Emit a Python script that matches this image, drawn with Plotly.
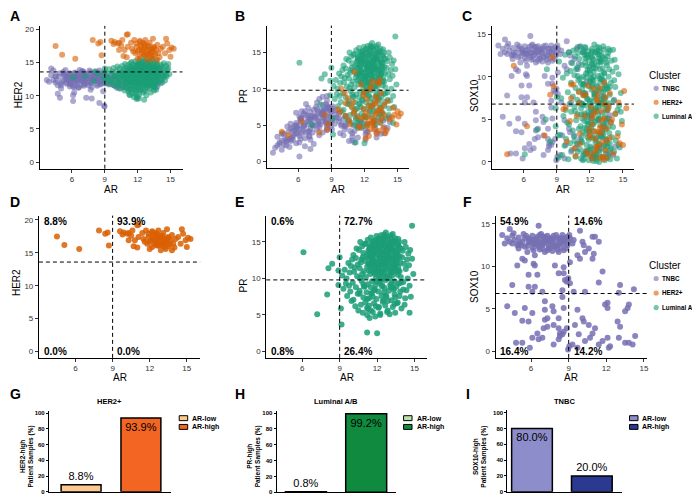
import plotly.graph_objects as go

W, H = 700, 496
FONT = "Liberation Sans, Arial, sans-serif"

# ---------------- data ----------------
clusters = ["TNBC", "HER2+", "Luminal A/B"]
cluster_colors = {"TNBC": "#7570B3", "HER2+": "#D95F02", "Luminal A/B": "#1B9E77"}

tnbc_ar = [3.7, 4.3, 4.1, 3.9, 4.5, 4.7, 4.9, 5.1, 5.4, 5.5,
           5.8, 5.9, 6.1, 6.2, 6.3, 6.5, 6.6, 6.6, 6.7, 6.9,
           7.0, 7.1, 7.3, 7.4, 7.5, 7.7, 7.8, 7.9, 8.1, 8.2,
           8.3, 8.5, 8.6, 8.7, 8.9, 8.9, 8.95, 9.05, 5.5, 5.7,
           5.3, 6.2, 6.3, 6.9, 7.1, 7.5, 7.9, 8.2, 8.6, 5.2,
           5.0, 6.1, 6.5, 7.3, 7.7, 8.3, 6.7, 5.8, 4.5, 7.4,
           9.3, 9.4, 9.9, 10.1, 10.2, 10.3, 10.9, 11.0, 11.1, 11.4,
           9.7, 9.9, 10.6, 9.1, 10.9, 4.9, 5.5, 6.2, 6.3, 6.5,
           5.8, 7.9, 8.2, 8.6, 8.7, 8.85, 8.97, 8.6, 4.5, 5.8,
           6.3, 6.9, 6.1, 8.5, 11.7, 11.4, 13.1, 13.0, 14.2, 9.4,
           10.3, 9.1, 9.1, 7.1, 8.5, 5.5, 7.1, 7.7, 7.8, 8.6,
           4.7, 6.1, 7.1, 7.3, 5.3, 5.8, 8.2, 9.7, 10.1, 10.2,
           11.9, 12.1, 12.1, 13.7, 13.8, 13.5, 7.0, 7.3, 7.8, 8.2,
           8.3, 8.5, 8.3, 8.6, 6.9, 6.6, 6.1, 5.3, 5.9, 7.8,
           8.2, 9.05, 9.3, 8.85, 9.8, 10.3, 10.7, 10.9, 11.1, 11.4,
           11.7, 12.1, 12.3, 12.9, 13.1, 13.0, 13.5, 13.8, 14.1, 14.3,
           9.5, 10.6, 9.7, 8.95, 12.2, 6.5, 4.8, 4.1, 4.6, 5.0,
           5.3, 5.6, 5.9, 6.2, 6.4, 6.6, 6.8, 7.0, 7.2, 7.4,
           7.6, 7.8, 8.0, 8.2, 8.4, 8.6, 8.8, 6.1, 6.7, 7.0,
           7.3, 7.7, 8.1, 5.7, 5.0, 4.3, 6.9, 8.5]
tnbc_sox10 = [13.7, 14.4, 13.3, 12.7, 13.6, 13.1, 12.5, 12.8, 13.8, 13.3,
              13.3, 12.9, 13.6, 13.1, 12.7, 13.5, 14.8, 12.9, 13.7, 13.2,
              12.7, 13.5, 12.9, 12.5, 13.3, 12.8, 13.6, 13.1, 12.5, 13.3,
              12.9, 13.7, 12.7, 13.1, 13.5, 12.5, 12.9, 13.7, 12.3, 11.7,
              10.9, 11.9, 11.3, 12.1, 11.7, 12.1, 12.3, 11.7, 11.9, 12.5,
              12.1, 12.8, 12.5, 13.6, 13.3, 13.3, 12.8, 12.8, 12.7, 13.1,
              12.7, 13.1, 14.2, 12.9, 12.5, 11.7, 13.5, 11.5, 13.5, 12.9,
              11.3, 10.9, 12.1, 13.3, 10.9, 10.1, 10.7, 10.3, 10.1, 9.0,
              9.0, 10.1, 9.2, 9.2, 8.4, 8.2, 8.6, 9.9, 7.8, 7.6,
              7.6, 7.0, 7.0, 7.2, 9.4, 8.1, 7.8, 6.9, 7.3, 7.0,
              7.0, 10.5, 8.0, 5.9, 6.4, 5.1, 4.9, 5.3, 4.7, 5.1,
              4.5, 4.5, 3.7, 3.9, 3.6, 3.5, 3.9, 4.9, 3.9, 3.5,
              5.5, 5.7, 5.1, 5.1, 5.5, 4.7, 2.7, 2.9, 3.1, 2.7,
              2.1, 2.0, 1.8, 2.3, 1.6, 1.4, 1.6, 1.0, 0.4, 0.8,
              1.4, 0.6, 0.8, 2.7, 2.0, 1.2, 1.6, 2.1, 2.7, 0.8,
              1.2, 1.6, 0.6, 3.5, 2.9, 1.6, 1.0, 1.0, 0.8, 1.8,
              3.1, 3.1, 0.4, 0.2, 0.4, 2.1, 1.0, 5.3, 13.9, 13.4,
              12.9, 13.6, 13.1, 12.6, 13.2, 12.3, 13.8, 12.9, 13.1, 12.2,
              12.9, 12.4, 13.7, 12.6, 12.2, 13.3, 12.1, 12.2, 12.0, 13.5,
              11.9, 11.8, 12.0, 12.4, 12.6, 12.9, 12.5, 12.9]
tnbc_her2 = [12.4, 13.8, 14.1, 12.1, 12.9, 11.6, 13.4, 12.2, 13.9, 11.8,
             12.6, 13.2, 11.4, 12.8, 13.5, 12.0, 13.0, 11.2, 12.5, 13.7,
             12.3, 11.7, 13.3, 12.7, 12.1, 13.6, 11.9, 12.9, 13.1, 12.4,
             11.5, 13.8, 12.6, 12.2, 13.4, 11.9, 12.8, 13.2, 12.0, 13.1,
             12.4, 11.3, 12.9, 12.2, 13.0, 11.6, 12.5, 13.5, 12.0, 13.6,
             11.1, 12.7, 13.3, 11.8, 12.9, 12.3, 13.9, 12.1, 13.0, 12.6,
             12.4, 11.7, 13.0, 11.2, 12.9, 11.9, 11.2, 12.4, 13.1, 12.2,
             12.6, 11.5, 13.3, 12.8, 11.8, 9.7, 12.6, 10.5, 12.2, 13.1,
             11.4, 12.8, 13.6, 11.7, 12.5, 13.2, 8.4, 12.3, 12.0, 13.4,
             11.6, 12.7, 10.1, 13.0, 12.1, 11.0, 12.6, 13.3, 12.4, 11.8,
             11.1, 12.9, 12.2, 12.4, 8.9, 12.8, 13.5, 12.0, 9.6, 13.1,
             10.3, 12.5, 11.5, 12.9, 13.2, 11.8, 12.7, 13.0, 12.3, 11.6,
             12.9, 11.9, 13.3, 12.2, 11.4, 12.8, 13.7, 9.7, 12.2, 13.4,
             11.7, 12.6, 13.0, 12.1, 12.9, 11.3, 12.4, 13.3, 12.0, 13.1,
             12.5, 11.9, 12.8, 10.7, 11.6, 12.3, 12.9, 11.4, 12.6, 12.0,
             13.2, 11.8, 12.7, 12.2, 13.0, 11.5, 12.4, 12.9, 11.9, 13.1,
             12.5, 11.7, 12.1, 8.5, 12.8, 12.3, 12.9, 13.1, 12.3, 11.9,
             13.0, 12.5, 11.7, 13.4, 12.2, 12.9, 11.5, 13.2, 12.0, 12.6,
             13.8, 11.3, 12.8, 12.3, 13.5, 11.8, 12.5, 9.2, 12.7, 12.1,
             13.3, 10.9, 12.6, 12.9, 11.6, 12.4, 13.6, 12.2]
tnbc_pr = [1.2, 2.6, 3.4, 1.9, 2.9, 3.7, 2.2, 4.1, 3.3, 4.6,
           5.0, 3.8, 4.4, 5.6, 6.1, 4.9, 5.3, 3.2, 6.4, 5.1,
           4.2, 6.8, 5.7, 2.4, 6.0, 7.2, 5.4, 4.7, 6.6, 7.8,
           5.9, 6.3, 8.4, 5.2, 7.0, 6.7, 4.8, 6.9, 3.0, 4.3,
           2.8, 5.8, 3.9, 7.4, 4.5, 6.2, 3.6, 5.5, 7.7, 2.0,
           4.8, 3.5, 6.6, 5.0, 8.1, 6.1, 4.0, 5.3, 1.6, 7.1,
           6.0, 7.0, 5.1, 5.8, 4.4, 6.3, 3.9, 5.0, 4.2, 3.3,
           6.6, 4.9, 5.6, 7.3, 2.9, 2.7, 4.2, 3.1, 5.9, 4.6,
           6.7, 8.6, 6.4, 5.0, 7.5, 6.2, 5.4, 9.0, 3.8, 2.5,
           6.9, 4.1, 5.0, 7.9, 4.6, 5.3, 4.0, 5.7, 6.1, 6.5,
           4.8, 7.6, 5.7, 3.0, 7.3, 3.4, 5.8, 4.4, 6.8, 5.5,
           2.3, 6.2, 1.7, 5.0, 4.5, 3.9, 6.5, 5.9, 3.6, 4.9,
           5.2, 3.0, 4.3, 5.6, 4.7, 3.8, 3.5, 6.3, 5.1, 4.0,
           6.9, 5.3, 7.1, 4.6, 6.0, 2.1, 0.7, 3.1, 4.7, 5.6,
           6.7, 4.4, 5.2, 7.4, 3.9, 5.1, 4.2, 3.4, 2.6, 4.8,
           5.5, 3.7, 4.1, 5.0, 3.3, 4.5, 5.8, 3.9, 4.6, 5.4,
           6.0, 2.8, 5.5, 6.1, 4.0, 4.9, 3.0, 2.2, 3.9, 2.9,
           5.2, 3.7, 4.5, 5.9, 4.2, 6.9, 5.5, 3.4, 6.2, 4.9,
           7.5, 6.0, 5.1, 8.9, 6.8, 4.3, 7.2, 2.6, 7.9, 5.7,
           4.0, 6.5, 7.0, 4.9, 3.2, 2.4, 6.3, 5.6]

her2p_ar = [4.5, 5.1, 6.3, 7.9, 8.4, 8.6, 8.7, 9.6, 9.9, 10.3,
            10.3, 10.2, 10.6, 10.8, 11.0, 11.1, 10.7, 11.0, 11.1, 11.4,
            11.5, 11.7, 11.8, 11.9, 12.1, 12.2, 12.2, 12.3, 12.5, 12.5,
            12.6, 12.7, 12.7, 12.9, 12.9, 13.0, 13.1, 13.1, 13.3, 13.3,
            13.4, 13.4, 13.5, 13.5, 13.7, 13.8, 13.8, 13.9, 14.1, 14.3,
            14.5, 14.6, 14.7, 14.9, 15.0, 15.1, 15.3, 11.9, 12.2, 12.4,
            12.6, 12.8, 13.0, 13.2, 13.3, 13.5, 12.7, 12.0, 12.3, 12.4,
            12.9, 13.6, 13.2, 11.6, 12.0, 14.0, 13.0, 12.6, 10.5, 9.8]
her2p_her2 = [17.5, 16.2, 15.6, 18.4, 17.9, 18.1, 16.1, 18.3, 18.1, 18.0,
              16.9, 17.9, 18.4, 16.9, 19.2, 19.3, 16.0, 15.8, 17.4, 18.0,
              17.1, 18.4, 16.4, 17.4, 16.9, 18.3, 15.9, 17.3, 18.0, 16.6,
              17.1, 18.4, 16.1, 17.4, 15.4, 16.9, 18.0, 16.4, 17.2, 15.6,
              18.6, 16.6, 17.4, 16.0, 16.9, 15.4, 17.7, 16.4, 17.1, 17.4,
              16.4, 18.6, 17.9, 16.9, 15.9, 17.3, 17.1, 17.9, 18.1, 16.3,
              16.1, 16.9, 17.6, 16.6, 17.0, 17.2, 17.6, 16.7, 17.6, 16.9,
              16.3, 16.3, 15.9, 16.7, 15.6, 15.8, 16.1, 17.8, 17.6, 17.8]
her2p_pr = [4.1, 3.6, 5.5, 4.0, 6.4, 4.4, 5.2, 7.2, 10.0, 8.0,
            6.3, 9.4, 5.7, 7.6, 6.6, 12.3, 5.1, 8.2, 7.0, 6.1,
            4.8, 10.6, 5.9, 7.3, 3.2, 8.6, 6.8, 5.3, 9.9, 4.4,
            7.5, 6.0, 11.0, 5.6, 4.4, 8.9, 6.5, 3.8, 10.7, 7.1,
            11.2, 5.4, 9.4, 6.9, 4.6, 7.8, 6.4, 3.9, 8.3, 5.8,
            6.0, 7.4, 6.4, 5.1, 6.9, 6.2, 6.6, 9.1, 4.9, 7.7,
            10.3, 5.0, 6.7, 8.5, 4.2, 7.3, 5.5, 9.6, 6.1, 3.5,
            8.0, 5.9, 10.9, 4.7, 6.3, 4.3, 7.9, 5.2, 8.7, 6.8]
her2p_sox10 = [0.9, 11.3, 4.2, 3.1, 7.9, 12.3, 8.9, 6.2, 2.4, 7.5,
               9.1, 4.8, 1.6, 5.4, 8.2, 3.3, 0.7, 6.9, 2.1, 7.8,
               5.4, 1.2, 9.0, 3.8, 6.5, 0.4, 4.4, 8.6, 2.7, 5.9,
               1.8, 7.2, 3.5, 8.7, 0.5, 6.0, 4.1, 2.3, 9.3, 5.1,
               1.4, 7.6, 0.5, 3.9, 6.6, 2.8, 8.1, 4.6, 1.0, 5.7,
               3.0, 7.0, 2.2, 4.4, 2.0, 8.35, 6.3, 0.8, 5.2, 3.6,
               7.4, 1.9, 4.9, 0.3, 6.8, 2.5, 8.0, 3.2, 5.6, 1.1,
               4.0, 6.1, 0.6, 7.9, 2.9, 5.0, 3.4, 1.5, 9.1, 6.4]

lum_ar = [9.2, 9.3, 9.4, 9.5, 9.55, 9.6, 9.7, 9.75, 9.8, 9.85, 9.9, 9.95,
          10.0, 10.05, 10.1, 10.1, 10.15, 10.2, 10.25, 10.3, 10.3, 10.35, 10.4, 10.45, 10.45, 10.5,
          10.55, 10.6, 10.6, 10.65, 10.7, 10.7, 10.75, 10.8, 10.8, 10.85, 10.85, 10.9, 10.9, 10.95, 10.95, 11.0, 10.65, 10.75,
          11.05, 11.05, 11.1, 11.1, 11.15, 11.15, 11.2, 11.2, 11.25, 11.25, 11.3, 11.3, 11.35, 11.35, 11.4, 11.4, 11.45, 11.45, 11.5, 11.5, 11.2, 11.35,
          11.55, 11.55, 11.6, 11.6, 11.6, 11.65, 11.65, 11.7, 11.7, 11.75, 11.75, 11.8, 11.8, 11.8, 11.85, 11.85, 11.9, 11.9, 11.95, 11.95, 12.0, 12.0, 11.7, 11.9, 11.6,
          12.05, 12.05, 12.1, 12.1, 12.1, 12.15, 12.15, 12.2, 12.2, 12.2, 12.25, 12.25, 12.3, 12.3, 12.3, 12.35, 12.35, 12.4, 12.4, 12.4, 12.45, 12.45, 12.5, 12.5, 12.2, 12.3, 12.15, 12.4,
          12.55, 12.55, 12.6, 12.6, 12.6, 12.65, 12.65, 12.7, 12.7, 12.7, 12.75, 12.75, 12.8, 12.8, 12.8, 12.85, 12.85, 12.9, 12.9, 12.9, 12.95, 12.95, 13.0, 13.0, 12.6, 12.75, 12.85, 12.7,
          13.05, 13.05, 13.1, 13.1, 13.15, 13.15, 13.2, 13.2, 13.25, 13.25, 13.3, 13.3, 13.35, 13.35, 13.4, 13.4, 13.45, 13.45, 13.5, 13.5, 13.1, 13.3, 13.2, 13.4, 13.25,
          13.55, 13.55, 13.6, 13.6, 13.65, 13.65, 13.7, 13.7, 13.75, 13.8, 13.8, 13.85, 13.9, 13.9, 13.95, 14.0, 13.7, 13.85,
          14.05, 14.1, 14.15, 14.2, 14.25, 14.3, 14.3, 14.35, 14.4, 14.45, 14.5, 14.2,
          14.55, 14.6, 14.65, 14.7, 14.8, 14.9,
          6.1, 7.2, 8.0, 8.1, 8.4, 8.9, 9.0, 9.15, 9.1, 8.9, 11.2, 12.0, 14.8, 14.6,
          11.3, 11.4, 11.5, 11.6, 11.7, 11.8, 11.9, 12.0, 12.1, 12.2,
          12.3, 12.4, 12.5, 12.6, 12.7, 12.8, 12.9, 13.0, 13.1, 13.2,
          13.3, 13.4, 13.5, 13.6, 13.7, 13.8, 11.45, 11.65, 11.85, 12.05,
          12.25, 12.45, 12.65, 12.85, 13.05, 13.25, 13.45, 13.65, 11.55, 11.75,
          11.95, 12.15, 12.35, 12.55, 12.75, 12.95, 13.15, 13.35, 13.55, 13.75,
          11.35, 11.6, 11.85, 12.1, 12.35, 12.6, 12.85, 13.1, 13.35, 13.6,
          11.4, 11.7, 12.0, 12.3, 12.6, 12.9, 13.2, 13.5, 13.8, 12.4,
          11.5, 11.8, 12.1, 12.4, 12.7, 13.0, 13.3, 13.6, 12.2, 12.8,
          11.2, 11.5, 11.8, 12.1, 12.4, 12.7, 13.0, 13.3, 13.6, 13.9,
          11.0, 11.35, 11.65, 11.95, 12.25, 12.55, 12.85, 13.15, 13.45, 14.1,
          10.6, 10.9, 11.25, 11.55, 11.9, 12.2, 12.5, 12.8, 13.1, 13.4]
lum_pr = [10.4, 8.6, 11.2, 9.3, 10.0, 7.6, 12.1, 9.0, 10.8, 8.2, 11.7, 6.9,
          12.6, 9.4, 13.2, 7.1, 10.9, 11.5, 6.2, 12.8, 8.8, 14.1, 10.3, 7.9, 11.9, 5.6,
          13.9, 8.3, 11.4, 15.0, 6.4, 12.2, 9.7, 14.4, 10.6, 5.3, 12.9, 7.4, 13.5, 11.0, 8.9, 14.7, 10.1, 12.6,
          12.4, 6.7, 14.8, 10.2, 8.1, 13.1, 11.6, 5.0, 15.3, 9.2, 12.0, 13.8, 7.3, 11.1, 14.2, 4.6, 10.6, 12.9, 8.8, 15.6, 6.0, 13.4,
          13.2, 7.9, 11.8, 14.6, 9.6, 12.5, 5.4, 15.1, 10.9, 6.6, 13.9, 12.2, 8.5, 14.4, 11.3, 4.8, 13.6, 10.0, 15.8, 7.2, 12.8, 11.5, 14.0, 9.1, 12.1,
          11.4, 14.9, 8.2, 13.3, 10.5, 15.5, 6.1, 12.7, 9.4, 14.2, 11.9, 5.2, 13.7, 10.9, 15.9, 7.6, 12.4, 14.6, 8.9, 11.2, 13.9, 6.8, 15.2, 12.0, 10.2, 13.0, 11.7, 9.9,
          13.6, 10.7, 15.7, 8.7, 12.3, 14.5, 6.3, 11.6, 16.3, 9.8, 13.0, 7.5, 14.8, 12.6, 10.3, 15.4, 5.6, 13.3, 11.1, 14.1, 8.3, 12.9, 15.0, 10.0, 11.9, 13.8, 12.2, 14.3,
          14.2, 9.1, 12.8, 15.6, 7.0, 11.4, 13.9, 10.4, 16.1, 6.1, 12.5, 14.7, 8.5, 11.8, 15.2, 9.6, 13.4, 5.3, 12.1, 14.0, 10.8, 13.1, 11.0, 7.8, 15.0,
          12.7, 8.9, 14.6, 10.9, 6.7, 13.5, 11.6, 15.4, 9.3, 13.0, 7.6, 12.2, 14.1, 10.2, 5.9, 12.9, 11.1, 8.2,
          13.8, 9.5, 12.0, 15.0, 7.3, 11.3, 14.3, 8.4, 12.6, 10.0, 13.4, 6.4,
          11.8, 9.0, 13.9, 7.5, 12.7, 10.6,
          13.6, 5.1, 7.8, 11.4, 12.0, 11.1, 12.9, 3.7, 5.9, 9.1, 2.6, 2.5, 17.2, 5.3,
          12.8, 14.1, 11.2, 15.0, 13.3, 10.6, 14.7, 12.1, 15.4, 11.8,
          13.6, 10.9, 14.9, 12.4, 11.3, 15.7, 13.0, 10.4, 14.4, 12.7,
          15.1, 11.6, 13.8, 12.3, 14.6, 11.0, 13.9, 12.6, 10.8, 14.3,
          12.9, 15.3, 11.5, 13.2, 14.8, 12.0, 15.5, 10.5, 12.3, 13.7,
          14.0, 11.1, 12.8, 16.0, 13.5, 11.7, 14.2, 12.5, 13.1, 15.0,
          11.9, 13.0, 15.2, 12.2, 14.5, 10.3, 12.9, 15.9, 11.4, 13.6,
          14.4, 11.5, 13.4, 10.7, 15.6, 12.1, 13.7, 11.9, 14.2, 13.0,
          12.0, 14.8, 11.7, 13.3, 12.6, 14.0, 10.9, 12.8, 15.0, 13.9,
          7.2, 5.6, 8.4, 6.0, 9.1, 7.7, 5.1, 8.7, 6.6, 9.4,
          8.9, 6.3, 7.5, 9.6, 5.0, 8.1, 6.9, 9.3, 7.4, 8.5,
          7.9, 9.2, 5.8, 8.0, 6.2, 9.7, 7.0, 5.4, 8.8, 6.5]
lum_her2 = [13.4, 12.7, 14.0, 12.1, 13.1, 11.8, 13.6, 12.4, 14.2, 11.6, 13.0, 12.9,
            12.2, 13.7, 11.4, 13.0, 14.4, 12.6, 11.9, 13.3, 12.0, 14.1, 12.8, 13.5, 11.1, 12.5,
            13.6, 12.1, 14.5, 11.3, 13.0, 12.7, 14.0, 10.8, 13.4, 12.3, 14.8, 11.8, 13.2, 12.5, 14.2, 13.8, 11.5, 13.1,
            12.9, 11.2, 13.8, 14.6, 10.6, 12.4, 13.3, 11.9, 14.1, 12.7, 10.1, 13.6, 12.0, 14.9, 11.6, 13.1, 12.5, 15.1, 11.0, 13.9, 12.2, 14.4,
            13.4, 10.3, 12.8, 14.7, 11.5, 13.9, 9.8, 12.2, 14.3, 11.1, 13.0, 15.2, 10.6, 12.6, 13.7, 11.8, 14.0, 9.5, 12.9, 11.4, 13.5, 14.8, 12.4, 10.9, 13.2,
            12.7, 14.2, 9.6, 13.5, 11.9, 14.9, 10.2, 13.1, 12.4, 15.5, 11.3, 13.8, 12.0, 14.5, 10.9, 13.3, 12.6, 15.0, 11.6, 13.9, 12.2, 14.4, 10.5, 13.6, 12.9, 14.1, 11.0, 13.0,
            13.2, 11.4, 14.6, 12.8, 15.3, 10.7, 13.6, 12.1, 14.3, 11.8, 13.0, 15.7, 12.5, 10.1, 13.9, 14.8, 11.2, 13.4, 12.3, 15.1, 11.6, 14.0, 12.7, 13.5, 9.4, 14.2, 12.9, 13.7,
            12.9, 14.7, 11.1, 13.5, 12.4, 15.2, 10.5, 13.8, 12.2, 14.4, 11.7, 13.1, 15.6, 12.6, 14.0, 11.3, 13.3, 12.0, 14.8, 10.8, 13.7, 12.5, 14.2, 13.0, 11.9,
            13.4, 11.5, 14.3, 12.7, 15.0, 12.0, 13.8, 10.9, 14.6, 12.4, 13.1, 11.8, 14.1, 12.9, 13.6, 12.2, 15.3, 13.3,
            13.9, 12.5, 14.7, 13.2, 12.0, 14.2, 13.5, 12.8, 14.9, 13.0, 12.3, 14.4,
            13.6, 14.5, 12.9, 13.9, 14.1, 13.3,
            12.8, 13.0, 12.2, 13.7, 13.3, 12.6, 14.1, 11.9, 12.5, 13.5, 10.9, 9.9, 14.8, 13.1,
            13.2, 12.6, 14.1, 11.9, 13.7, 12.3, 14.5, 13.0, 12.1, 14.8,
            12.7, 13.9, 11.6, 14.3, 13.1, 12.2, 14.9, 13.5, 12.4, 14.0,
            12.9, 14.6, 13.3, 12.0, 14.2, 13.6, 12.8, 14.0, 11.8, 13.4,
            13.8, 12.5, 15.1, 13.0, 11.7, 14.4, 12.6, 13.9, 12.2, 13.5,
            14.7, 12.0, 13.6, 14.2, 12.3, 13.8, 15.0, 12.8, 13.4, 14.1,
            12.4, 13.3, 11.4, 14.6, 12.9, 13.7, 12.1, 14.3, 13.0, 11.9,
            13.9, 12.7, 13.1, 15.2, 12.5, 14.0, 13.3, 12.2, 14.7, 13.6,
            12.0, 14.2, 12.8, 13.5, 14.4, 12.6, 13.9, 12.3, 13.2, 11.6,
            11.6, 12.9, 10.4, 13.4, 12.1, 10.9, 13.8, 12.4, 11.2, 13.0,
            12.3, 11.0, 13.5, 9.7, 12.7, 13.2, 11.8, 13.6, 12.5, 14.0,
            13.1, 12.0, 10.2, 12.6, 13.9, 10.8, 12.2, 14.1, 12.9, 11.5]
lum_sox10 = [11.8, 3.2, 7.5, 0.8, 9.9, 5.4, 1.9, 12.6, 6.1, 2.7, 10.4, 4.6,
             8.2, 0.3, 12.9, 4.4, 6.8, 2.2, 10.7, 5.9, 9.3, 1.4, 11.6, 3.7, 7.7, 13.1,
             3.0, 10.2, 6.5, 12.4, 0.6, 8.7, 4.9, 13.3, 2.1, 7.3, 11.1, 5.6, 1.2, 9.6, 12.8, 3.9, 6.0, 10.9,
             7.0, 12.1, 1.5, 9.8, 4.2, 13.6, 0.4, 6.3, 11.4, 2.9, 8.6, 5.1, 12.9, 3.5, 10.0, 7.9, 1.0, 13.1, 4.8, 9.1, 2.4, 6.7,
             5.5, 11.7, 0.9, 8.1, 13.4, 3.3, 9.9, 6.6, 2.0, 12.3, 7.4, 4.4, 10.8, 1.3, 13.0, 5.9, 8.9, 0.2, 11.2, 3.8, 6.9, 9.5, 12.6, 2.6, 7.8,
             10.3, 1.8, 6.4, 12.7, 4.0, 8.5, 0.7, 11.5, 5.2, 13.3, 2.8, 9.2, 7.1, 0.1, 12.0, 3.6, 10.6, 6.0, 13.8, 1.1, 8.0, 4.7, 11.0, 2.3, 9.7, 5.8, 12.4, 7.6,
             6.2, 12.9, 2.5, 9.0, 0.5, 11.3, 4.9, 7.7, 13.5, 1.6, 10.1, 5.5, 3.2, 12.2, 8.4, 0.0, 6.9, 10.9, 2.1, 13.0, 4.3, 9.4, 11.8, 7.3, 1.0, 5.0, 12.6, 8.8,
             9.7, 3.0, 12.5, 6.6, 0.6, 11.0, 4.5, 8.2, 13.2, 1.9, 7.0, 10.4, 5.3, 0.2, 12.1, 3.8, 9.0, 6.0, 11.7, 2.7, 8.6, 4.1, 13.6, 1.3, 7.5,
             5.1, 11.4, 2.2, 8.7, 12.8, 0.8, 6.4, 10.0, 3.4, 13.1, 7.9, 1.5, 9.3, 4.7, 11.9, 2.9, 6.9, 0.3,
             10.6, 4.1, 7.2, 1.2, 12.0, 5.6, 8.8, 2.5, 11.1, 0.4, 6.1, 9.6,
             3.4, 10.3, 6.6, 1.7, 8.1, 4.8,
             0.9, 3.8, 5.0, 10.9, 2.4, 4.2, 7.6, 0.5, 3.1, 6.3, 9.2, 1.4, 5.9, 2.0,
             2.3, 9.1, 5.7, 12.2, 0.9, 7.4, 3.6, 10.8, 6.2, 13.0,
             4.4, 11.6, 1.7, 8.3, 12.7, 5.0, 9.8, 0.6, 7.1, 3.2,
             10.5, 2.0, 6.7, 12.4, 4.1, 8.8, 0.3, 11.3, 5.3, 9.4,
             3.0, 12.9, 6.0, 1.2, 10.2, 7.7, 2.6, 13.3, 8.0, 4.8,
             11.9, 5.5, 9.6, 0.8, 6.5, 12.0, 3.4, 8.5, 1.8, 10.9,
             6.8, 1.3, 12.5, 4.6, 10.0, 2.8, 13.4, 5.8, 9.0, 0.5,
             9.2, 3.9, 7.2, 11.0, 0.1, 5.1, 12.3, 6.3, 2.2, 8.1,
             4.0, 10.5, 1.0, 7.9, 13.1, 3.0, 9.5, 6.1, 11.4, 2.0,
             5.6, 12.6, 2.9, 9.9, 0.7, 7.0, 11.7, 4.3, 8.6, 1.6,
             8.3, 0.2, 10.4, 3.5, 12.2, 6.4, 1.4, 9.7, 4.9, 13.2,
             2.5, 10.1, 6.9, 13.5, 4.5, 8.9, 0.4, 11.8, 3.7, 7.5]

ar_cut = 9.0
her2_cut = 13.6
pr_cut = 9.8
sox10_cut = 6.8

ar_ticks = [6, 9, 12, 15]

quadrant_pct_D = ["8.8%", "93.9%", "0.0%", "0.0%"]      # TL, TR, BL, BR
quadrant_pct_E = ["0.6%", "72.7%", "0.8%", "26.4%"]
quadrant_pct_F = ["54.9%", "14.6%", "16.4%", "14.2%"]

bar_groups = ["AR-low", "AR-high"]
her2_high_pct = [8.8, 93.9]
pr_high_pct = [0.8, 99.2]
sox10_high_pct = [80.0, 20.0]
bar_ticks = [0, 20, 40, 60, 80, 100]

# ---------------- helpers ----------------
def fx(p):
    return p / W


def fy(p):
    return 1 - p / H


def sfx(i):
    return "" if i == 1 else str(i)


cluster_data = {
    "TNBC": {"AR": tnbc_ar, "HER2": tnbc_her2, "PR": tnbc_pr, "SOX10": tnbc_sox10},
    "HER2+": {"AR": her2p_ar, "HER2": her2p_her2, "PR": her2p_pr, "SOX10": her2p_sox10},
    "Luminal A/B": {"AR": lum_ar, "HER2": lum_her2, "PR": lum_pr, "SOX10": lum_sox10},
}

fig = go.Figure()

# scatter panels: id, x px domain, y px domain, x range, y range, y variable, y ticks, cut,
#                 x-title y px, y-title x px, y-title y px
panel_specs = [
    (1, (31.7, 175.0), (17.0, 161.0), (3.04, 16.1), (-1.0, 20.55), "HER2", [0, 5, 10, 15, 20], her2_cut, 181.5, 10.0, 86.0),
    (2, (259.3, 401.7), (16.7, 160.3), (3.12, 16.0), (-0.9, 18.7), "PR", [0, 5, 10, 15], pr_cut, 181.5, 236.0, 87.3),
    (3, (485.0, 627.7), (17.0, 161.0), (3.09, 15.99), (-0.8, 16.0), "SOX10", [0, 5, 10, 15], sox10_cut, 181.5, 467.3, 86.7),
    (4, (31.0, 192.7), (208.3, 351.7), (3.04, 16.08), (-0.97, 20.66), "HER2", [0, 5, 10, 15, 20], her2_cut, 371.5, 9.3, 276.0),
    (5, (259.0, 420.0), (208.3, 351.7), (3.12, 15.98), (-0.87, 18.6), "PR", [0, 5, 10, 15], pr_cut, 371.5, 236.0, 278.3),
    (6, (489.0, 641.0), (208.3, 351.7), (3.17, 15.26), (-0.78, 15.98), "SOX10", [0, 5, 10, 15], sox10_cut, 371.5, 467.3, 279.3),
]

axis_common = dict(showline=True, linecolor="black", linewidth=1, ticks="outside", ticklen=3,
                   tickwidth=1, tickcolor="#333333", showgrid=False, zeroline=False,
                   tickfont=dict(family=FONT, size=8, color="#333333"))

layout = {}
shapes = []
annotations = []

for pid, xp, yp, xr, yr, yvar, yt, ycut, xt_y, yt_x, yt_y in panel_specs:
    s = sfx(pid)
    layout["xaxis" + s] = dict(domain=[fx(xp[0]), fx(xp[1])], range=list(xr), anchor="y" + s,
                               tickvals=ar_ticks, **axis_common)
    layout["yaxis" + s] = dict(domain=[fy(yp[1]), fy(yp[0])], range=list(yr), anchor="x" + s,
                               tickvals=yt, **axis_common)
    # axis titles
    annotations.append(dict(text="AR", x=0.5, y=fy(xt_y), xref="x" + s + " domain", yref="paper",
                            xanchor="center", yanchor="middle", showarrow=False, borderpad=0,
                            font=dict(family=FONT, size=10, color="black")))
    annotations.append(dict(text=yvar, x=fx(yt_x), y=fy(yt_y), xref="paper", yref="paper", textangle=-90,
                            xanchor="center", yanchor="middle", showarrow=False, borderpad=0,
                            font=dict(family=FONT, size=10, color="black")))
    shapes.append(dict(type="line", xref="x" + s, yref="y" + s + " domain", x0=ar_cut, x1=ar_cut, y0=0, y1=1,
                       line=dict(color="black", width=1, dash="4px,3px"), layer="above"))
    shapes.append(dict(type="line", xref="x" + s + " domain", yref="y" + s, x0=0, x1=1, y0=ycut, y1=ycut,
                       line=dict(color="black", width=1, dash="4px,3px"), layer="above"))

# top row: all clusters
draw_order = ["TNBC", "Luminal A/B", "HER2+"]
for pid, yvar in [(1, "HER2"), (2, "PR"), (3, "SOX10")]:
    s = sfx(pid)
    for c in draw_order:
        fig.add_trace(go.Scatter(x=cluster_data[c]["AR"], y=cluster_data[c][yvar], mode="markers",
                                 name=c, showlegend=False, xaxis="x" + s, yaxis="y" + s,
                                 marker=dict(color=cluster_colors[c], size=6, opacity=0.6, line=dict(width=0))))

# middle row: one cluster each
for pid, c, yvar in [(4, "HER2+", "HER2"), (5, "Luminal A/B", "PR"), (6, "TNBC", "SOX10")]:
    s = sfx(pid)
    fig.add_trace(go.Scatter(x=cluster_data[c]["AR"], y=cluster_data[c][yvar], mode="markers",
                             name=c, showlegend=False, xaxis="x" + s, yaxis="y" + s,
                             marker=dict(color=cluster_colors[c], size=6, opacity=0.85, line=dict(width=0))))

# quadrant labels
for pid, pcts, ytop, xl, xr_ in [(4, quadrant_pct_D, 19.8, 3.36, 9.27),
                                 (5, quadrant_pct_E, 17.8, 3.39, 9.27),
                                 (6, quadrant_pct_F, 15.3, 3.43, 9.34)]:
    s = sfx(pid)
    for txt, (xx, yy) in zip(pcts, [(xl, ytop), (xr_, ytop), (xl, 0), (xr_, 0)]):
        annotations.append(dict(text="<b>" + txt + "</b>", x=xx, y=yy, xref="x" + s, yref="y" + s,
                                xanchor="left", yanchor="middle", showarrow=False, borderpad=0,
                                font=dict(family=FONT, size=10, color="black")))

# cluster legends (manual)
for top_px, item_px in [(66.7, [80.0, 94.0, 108.0]), (258.3, [271.7, 286.3, 301.0])]:
    annotations.append(dict(text="Cluster", x=fx(642.0), y=fy(top_px), xref="paper", yref="paper",
                            xanchor="left", yanchor="middle", showarrow=False, borderpad=0,
                            font=dict(family=FONT, size=10, color="black")))
    for c, ypx in zip(clusters, item_px):
        shapes.append(dict(type="circle", xref="paper", yref="paper",
                           x0=fx(650 - 2.6), x1=fx(650 + 2.6), y0=fy(ypx + 2.6), y1=fy(ypx - 2.6),
                           fillcolor=cluster_colors[c], opacity=0.6, line=dict(width=0)))
        annotations.append(dict(text="<b>" + c + "</b>", x=fx(655.0), y=fy(ypx), xref="paper", yref="paper",
                                xanchor="left", yanchor="middle", showarrow=False, borderpad=0,
                                font=dict(family=FONT, size=6.3, color="black")))

# bar panels
bar_specs = [
    (7, (41.0, 163.0), (405.0, 486.7), (-0.538, 1.495), her2_high_pct, ["#FDC98D", "#F26522"], 0.667,
     "HER2+", "HER2-high<br>Patient Samples (%)", 171.7, 19.2),
    (8, (269.3, 389.3), (405.0, 487.3), (-0.488, 1.498), pr_high_pct, ["#B9E3A6", "#108A3F"], 0.68,
     "Luminal A/B", "PR-high<br>Patient Samples (%)", 396.7, 246.7),
    (9, (500.7, 616.0), (404.5, 486.7), (-0.413, 1.508), sox10_high_pct, ["#8E8DCB", "#2B3990"], 0.68,
     "TNBC", "SOX10-high<br>Patient Samples (%)", 623.3, 473.7),
]

for pid, xp, yp, xr, vals, cols, bw, title, ytitle, leg_x, ytitle_x in bar_specs:
    s = sfx(pid)
    fig.add_trace(go.Bar(x=[0, 1], y=vals, width=bw, xaxis="x" + s, yaxis="y" + s, showlegend=False,
                         marker=dict(color=cols, line=dict(color="black", width=1.5)),
                         text=[f"{v:.1f}%" for v in vals],
                         textposition=["inside" if v > 50 else "outside" for v in vals],
                         insidetextanchor="end", constraintext="none", cliponaxis=False,
                         textfont=dict(family=FONT, size=11, color="black"),
                         insidetextfont=dict(family=FONT, size=11, color="black"),
                         outsidetextfont=dict(family=FONT, size=11, color="black"),
                         hoverinfo="skip"))
    layout["xaxis" + s] = dict(domain=[fx(xp[0]), fx(xp[1])], range=list(xr), anchor="y" + s,
                               showline=True, linecolor="black", linewidth=1, ticks="", showticklabels=False,
                               showgrid=False, zeroline=False)
    layout["yaxis" + s] = dict(domain=[fy(yp[1]), fy(yp[0])], range=[0, 103], anchor="x" + s,
                               showline=True, linecolor="black", linewidth=1, ticks="outside", ticklen=2,
                               tickwidth=1, tickcolor="black", tickvals=bar_ticks, showgrid=False, zeroline=False,
                               tickfont=dict(family=FONT, size=6, color="black", weight="bold"))
    annotations.append(dict(text="<b>" + ytitle + "</b>", x=fx(ytitle_x), y=fy(451.0), xref="paper", yref="paper",
                            textangle=-90, xanchor="center", yanchor="middle", showarrow=False, borderpad=0,
                            font=dict(family=FONT, size=6.5, color="black")))
    annotations.append(dict(text="<b>" + title + "</b>", x=0.5, y=fy(395.3), xref="x" + s + " domain",
                            yref="paper", xanchor="center", yanchor="middle", showarrow=False, borderpad=0,
                            font=dict(family=FONT, size=7.5, color="black")))
    for lab, col, ypx in zip(bar_groups, cols, [412.5, 421.3]):
        shapes.append(dict(type="rect", xref="paper", yref="paper",
                           x0=fx(leg_x), x1=fx(leg_x + 8.5), y0=fy(ypx + 2.5), y1=fy(ypx - 2.5),
                           fillcolor=col, line=dict(color="black", width=1)))
        annotations.append(dict(text="<b>" + lab + "</b>", x=fx(leg_x + 12), y=fy(ypx), xref="paper",
                                yref="paper", xanchor="left", yanchor="middle", showarrow=False, borderpad=0,
                                font=dict(family=FONT, size=7, color="black")))

# panel letters
for letter, xpx, ypx in [("A", 1, 7), ("B", 227, 7), ("C", 454, 7),
                         ("D", 1, 195), ("E", 227, 195), ("F", 455, 195),
                         ("G", 1, 388), ("H", 227, 388), ("I", 458, 388)]:
    annotations.append(dict(text="<b>" + letter + "</b>", x=fx(xpx), y=fy(ypx), xref="paper", yref="paper",
                            xanchor="left", yanchor="middle", showarrow=False, borderpad=0,
                            font=dict(family=FONT, size=14, color="black")))

fig.update_layout(width=W, height=H, margin=dict(l=0, r=0, t=0, b=0),
                  paper_bgcolor="white", plot_bgcolor="white",
                  font=dict(family=FONT, color="black"),
                  shapes=shapes, annotations=annotations, showlegend=False, **layout)

fig.write_html("out.html")
